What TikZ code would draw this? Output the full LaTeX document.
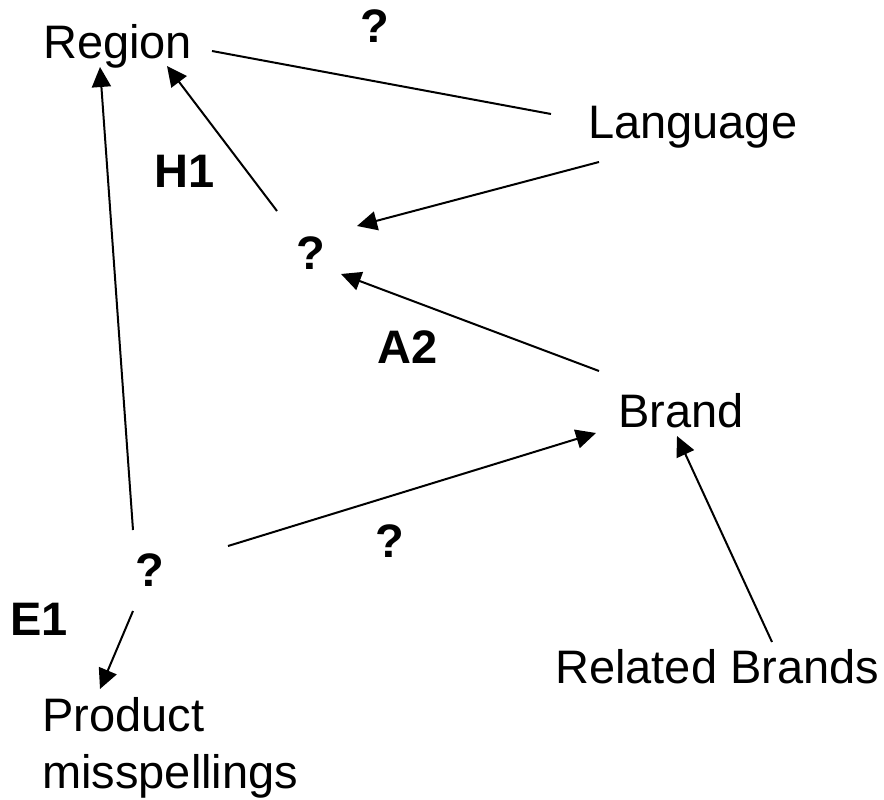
\documentclass[tikz,border=0pt]{standalone}
\usepackage{fontspec}
\setmainfont{Liberation Sans}
\usetikzlibrary{arrows.meta}
\begin{document}
\begin{tikzpicture}[x=1pt,y=-1pt,
  lbl/.style={inner sep=0pt,anchor=base west,font=\fontsize{47}{57}\selectfont},
  qmark/.style={inner sep=0pt,anchor=base,font=\fontsize{47}{57}\selectfont\bfseries},
  tag/.style={inner sep=0pt,anchor=base west,font=\fontsize{47}{57}\selectfont\bfseries},
  link/.style={line width=2pt},
  arr/.style={link,-{Triangle[length=20pt,width=19pt]}}]
\useasboundingbox (0,0) rectangle (884,800);

% concept labels
\node[lbl] (region) at (43,59) {Region};
\node[lbl] (language) at (588,139) {Language};
\node[lbl] (brand) at (618,427) {Brand};
\node[lbl] (related) at (555,683) {Related Brands};
% base anchor of a two-line node sits on its last line
\node[lbl,align=left] (product) at (42,788) {Product\\misspellings};

% unknown relations
\node[qmark] (qtop) at (375,43) {?};
\node[qmark] (qmid) at (311,269) {?};
\node[qmark] (qlow) at (150,586) {?};
\node[qmark] (qedge) at (390,557) {?};

% hypothesis tags
\node[tag] (h1) at (154,187) {H1};
\node[tag] (a2) at (377,363) {A2};
\node[tag] (e1) at (10,635) {E1};

% connector ends
\coordinate (regionE) at (212,51);
\coordinate (languageW) at (551,114);
\coordinate (languageSW) at (599,162);
\coordinate (qmidNE) at (357,226);
\coordinate (brandNW) at (599,371);
\coordinate (qmidE) at (341,274);
\coordinate (qmidNW) at (277,211);
\coordinate (regionS) at (167,66);
\coordinate (regionSW) at (100,67);
\coordinate (qlowN) at (133,530);
\coordinate (qlowS) at (133,611);
\coordinate (productN) at (100,689);
\coordinate (qlowE) at (228,546);
\coordinate (brandSW) at (596,433);
\coordinate (relatedN) at (772,642);
\coordinate (brandS) at (677,436);

% connectors
\draw[link] (regionE) -- (languageW);
\draw[arr] (languageSW) -- (qmidNE);
\draw[arr] (brandNW) -- (qmidE);
\draw[arr] (qmidNW) -- (regionS);
\draw[arr] (qlowN) -- (regionSW);
\draw[arr] (qlowS) -- (productN);
\draw[arr] (qlowE) -- (brandSW);
\draw[arr] (relatedN) -- (brandS);
\end{tikzpicture}
\end{document}
